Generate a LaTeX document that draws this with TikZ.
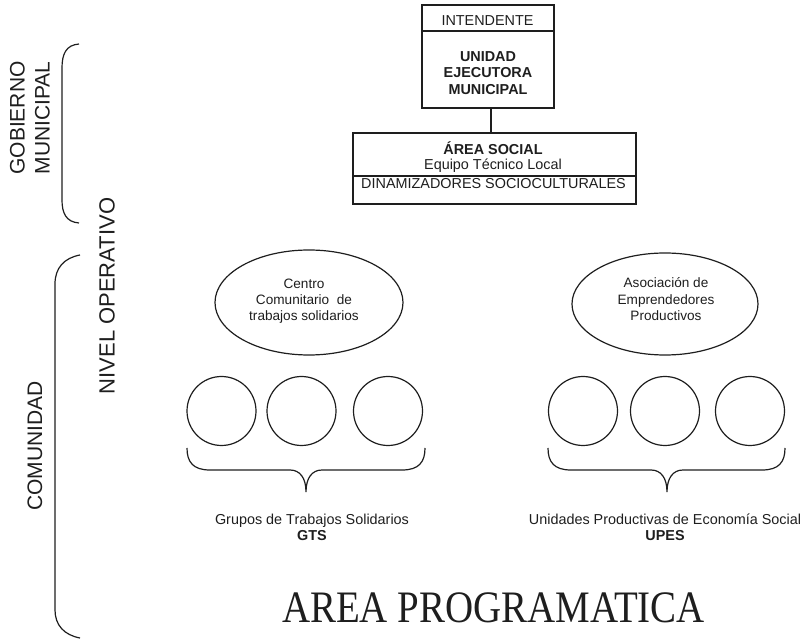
\documentclass[tikz,border=0pt]{standalone}
\usepackage{fontspec}
\setmainfont{Liberation Sans}
\newfontfamily\serifalt{Liberation Serif}
\usetikzlibrary{shapes.geometric}
\definecolor{ink}{HTML}{1E1E1E}
\tikzset{
  x=1pt, y=-1pt,
  every node/.style={inner sep=0pt, outer sep=0pt, text=ink},
  boxed/.style={draw=ink, line width=1.2pt, rectangle},
  oval/.style={draw=ink, line width=1.2pt, ellipse},
  ring/.style={draw=ink, line width=1.2pt, circle, minimum size=69pt},
  brace/.style={draw=ink, line width=1.2pt},
  wire/.style={draw=ink, line width=1.2pt},
  tx/.style={font=\fontsize{14.4}{16.5}\selectfont, anchor=base},
  tb/.style={font=\fontsize{14.4}{16.5}\selectfont\bfseries, anchor=base},
  txs/.style={font=\fontsize{13.6}{16}\selectfont, anchor=base},
  side/.style={font=\fontsize{21}{25}\selectfont, rotate=90, align=center},
}
\begin{document}
\begin{tikzpicture}
\useasboundingbox (0,0) rectangle (807,644);
% top boxes
\node[boxed, minimum width=132pt, minimum height=103pt] (ue) at (488,56.5) {};
\draw[wire] (ue.west |- 0,31) -- (ue.east |- 0,31);
\node[tx] (int) at (487.5,25.7) {INTENDENTE};
\node[tb] (uem1) at (488,61.7) {UNIDAD};
\node[tb] (uem2) at (488,77.7) {EJECUTORA};
\node[tb] (uem3) at (488,94.3) {MUNICIPAL};
\node[boxed, minimum width=283pt, minimum height=71pt] (as) at (494.5,168.5) {};
\draw[wire] (as.west |- 0,176) -- (as.east |- 0,176);
\node[tb] (ast) at (493,155) {ÁREA SOCIAL};
\node[tx] (etl) at (493,170) {Equipo Técnico Local};
\node[tx] (din) at (493.5,189) {DINAMIZADORES SOCIOCULTURALES};
\draw[wire] (ue.south -| 491,0) -- (as.north -| 491,0);
% side labels and braces
\node[side] (gob) at (30,118) {GOBIERNO\\MUNICIPAL};
\draw[brace] (79,44) .. controls (66,45) and (62,54) .. (62,68) -- (62,200) .. controls (62,213) and (66,222) .. (79,223);
\node[side] (com) at (35,446) {COMUNIDAD};
\draw[brace] (80,255) .. controls (64,258) and (55,268) .. (55,284) -- (55,610) .. controls (55,625) and (64,635) .. (80,638);
\node[side, font=\fontsize{22}{26}\selectfont] (niv) at (107,296) {NIVEL OPERATIVO};
% left group
\node[oval, minimum width=188pt, minimum height=105pt] (cc) at (309,302.5) {};
\node[txs] (cct1) at (304,289) {Centro};
\node[txs] (cct2) at (304,305) {Comunitario\ \ de};
\node[txs] (cct3) at (304,321) {trabajos solidarios};
\node[ring] (g1) at (221.5,411) {};
\node[ring] (g2) at (301.5,411) {};
\node[ring] (g3) at (388,411) {};
\draw[brace] (187,448) .. controls (187,462) and (193,470) .. (210,470) -- (290,470) .. controls (300,470) and (306,478) .. (306,492) .. controls (306,478) and (312,470) .. (322,470) -- (402,470) .. controls (419,470) and (425,462) .. (425,448);
\node[tx] (gts) at (312,525) {Grupos de Trabajos Solidarios};
\node[tb] (gtsb) at (312,540) {GTS};
% right group
\node[oval, minimum width=186pt, minimum height=102pt] (ae) at (665,304) {};
\node[txs] (aet1) at (666,288) {Asociación de};
\node[txs] (aet2) at (666,305) {Emprendedores};
\node[txs] (aet3) at (666,321) {Productivos};
\node[ring] (u1) at (583,411) {};
\node[ring] (u2) at (665,411) {};
\node[ring] (u3) at (750,411) {};
\draw[brace] (548,448) .. controls (548,462) and (554,470) .. (571,470) -- (651,470) .. controls (661,470) and (667,478) .. (667,492) .. controls (667,478) and (673,470) .. (683,470) -- (762,470) .. controls (779,470) and (785,462) .. (785,448);
\node[tx] (upe) at (665,525) {Unidades Productivas de Economía Social};
\node[tb] (upeb) at (665,540) {UPES};
% title
\node[font=\fontsize{45}{50}\selectfont\serifalt, anchor=base] (ap) at (493.5,623) {\scalebox{0.865}[1]{AREA PROGRAMATICA}};
\end{tikzpicture}
\end{document}
